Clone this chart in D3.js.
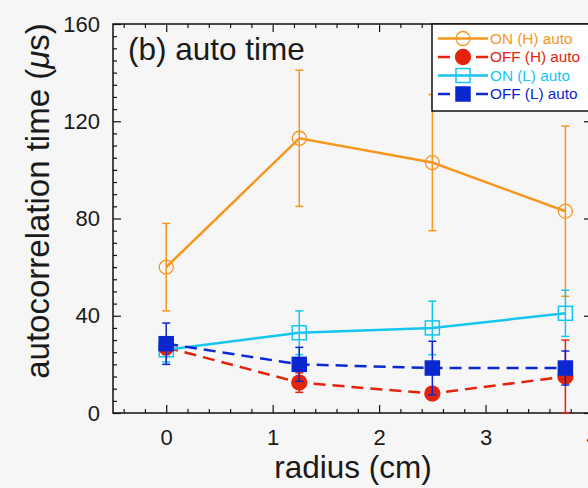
<!DOCTYPE html>
<html>
<head>
<meta charset="utf-8">
<script src="https://cdn.jsdelivr.net/npm/d3@7"></script>
<style>
  body { margin: 0; background: #f6f6f6; }
  svg { display: block; font-family: "Liberation Sans", Arial, sans-serif; }
</style>
</head>
<body>
<div id="chart"></div>
<script>
// data
const radius = [0, 1.25, 2.5, 3.75];
const onH = [60, 113, 103, 83];
const onHErr = [18, 28, 28, 35];
const offH = [27, 12.5, 8, 15];
const offHErr = [3, 4, 2, 15];
const onL = [26, 33, 35, 41];
const onLErr = [5, 9, 11, 9.5];
const offL = [28.5, 20, 18.5, 18.5];
const offLErr = [8.5, 7, 11, 7];

const seriesNames = ["ON (H) auto", "OFF (H) auto", "ON (L) auto", "OFF (L) auto"];
const yMajor = [0, 40, 80, 120, 160];
const xMajor = [0, 1, 2, 3, 4];

const W = 588, H = 488;
const box = {left: 113, right: 592, top: 24, bottom: 413};

const svg = d3.select("#chart").append("svg")
    .attr("width", W)
    .attr("height", H);

svg.append("rect").attr("width", W).attr("height", H).attr("fill", "#f6f6f6");

const x = d3.scaleLinear().domain([-0.5, 4]).range([box.left, box.right]);
const y = d3.scaleLinear().domain([0, 160]).range([box.bottom, box.top]);

const yMinor = d3.range(0, 161, 5).filter(v => v % 40 !== 0);
const xMinor = d3.range(-4, 41, 2).map(v => v / 10).filter(v => !Number.isInteger(v));

// inward ticks on all four sides
function ticks(axis, vals, size, tr) {
    svg.append("g")
        .attr("transform", tr)
        .call(axis.tickValues(vals).tickSize(size).tickFormat(""))
        .call(g => g.select(".domain").remove())
        .selectAll("line").attr("stroke", "#111").attr("stroke-width", 1.2);
}
ticks(d3.axisRight(y), yMajor, 8, `translate(${box.left},0)`);
ticks(d3.axisRight(y), yMinor, 4, `translate(${box.left},0)`);
ticks(d3.axisLeft(y), yMajor, 8, `translate(${box.right},0)`);
ticks(d3.axisLeft(y), yMinor, 4, `translate(${box.right},0)`);
ticks(d3.axisTop(x), xMajor, 8, `translate(0,${box.bottom})`);
ticks(d3.axisTop(x), xMinor, 4, `translate(0,${box.bottom})`);
ticks(d3.axisBottom(x), xMajor, 8, `translate(0,${box.top})`);
ticks(d3.axisBottom(x), xMinor, 4, `translate(0,${box.top})`);

// tick labels
svg.append("g")
    .attr("transform", `translate(${box.left},0)`)
    .call(d3.axisLeft(y).tickValues(yMajor).tickSize(0).tickPadding(13).tickFormat(d3.format("d")))
    .call(g => g.select(".domain").remove())
    .selectAll("text").attr("font-size", 22).attr("fill", "#1a1a1a").attr("font-family", "Liberation Sans, Arial, sans-serif");

svg.append("g")
    .attr("transform", `translate(0,${box.bottom})`)
    .call(d3.axisBottom(x).tickValues(xMajor).tickSize(0).tickPadding(16).tickFormat(d3.format("d")))
    .call(g => g.select(".domain").remove())
    .selectAll("text").attr("font-size", 22).attr("fill", "#1a1a1a").attr("font-family", "Liberation Sans, Arial, sans-serif");

// frame
svg.append("rect")
    .attr("x", box.left).attr("y", box.top)
    .attr("width", box.right - box.left).attr("height", box.bottom - box.top)
    .attr("fill", "none").attr("stroke", "#111").attr("stroke-width", 1.5);

// axis titles
svg.append("text")
    .attr("x", 353).attr("y", 478)
    .attr("text-anchor", "middle")
    .attr("font-size", 31.5).attr("fill", "#1a1a1a")
    .text("radius (cm)");

const yl = svg.append("text")
    .attr("transform", "translate(49,201) rotate(-90)")
    .attr("text-anchor", "middle")
    .attr("font-size", 33).attr("fill", "#1a1a1a");
yl.append("tspan").text("autocorrelation time (");
yl.append("tspan").attr("font-style", "italic").text("\u03bc");
yl.append("tspan").text("s)");

svg.append("text")
    .attr("x", 128).attr("y", 60)
    .attr("font-size", 31.5).attr("fill", "#1a1a1a")
    .text("(b) auto time");

// series
const series = [
    {name: seriesNames[0], vals: onH, err: onHErr, color: "#f7961f", dash: null, shape: "circle", filled: false},
    {name: seriesNames[1], vals: offH, err: offHErr, color: "#e3230c", dash: "12,7", shape: "circle", filled: true},
    {name: seriesNames[2], vals: onL, err: onLErr, color: "#14c6f0", dash: null, shape: "square", filled: false},
    {name: seriesNames[3], vals: offL, err: offLErr, color: "#0b27cf", dash: "12,7", shape: "square", filled: true}
];

function marker(g, s, cx, cy) {
    if (s.shape === "circle") {
        g.append("circle")
            .attr("cx", cx).attr("cy", cy).attr("r", s.filled ? 7.5 : 7)
            .attr("fill", s.filled ? s.color : "none")
            .attr("stroke", s.color).attr("stroke-width", 1.3);
    } else {
        const r = 7;
        g.append("rect")
            .attr("x", cx - r).attr("y", cy - r).attr("width", 2 * r).attr("height", 2 * r)
            .attr("fill", s.filled ? s.color : "none")
            .attr("stroke", s.color).attr("stroke-width", 1.5);
    }
}

const line = d3.line().x((d, i) => x(radius[i])).y(d => y(d));

series.forEach(s => {
    const g = svg.append("g");
    // error bars
    s.vals.forEach((v, i) => {
        const cx = x(radius[i]);
        const lo = y(v - s.err[i]), hi = y(v + s.err[i]);
        g.append("line").attr("x1", cx).attr("x2", cx).attr("y1", lo).attr("y2", hi)
            .attr("stroke", s.color).attr("stroke-width", 1.5);
        [lo, hi].forEach(yy => g.append("line")
            .attr("x1", cx - 4).attr("x2", cx + 4).attr("y1", yy).attr("y2", yy)
            .attr("stroke", s.color).attr("stroke-width", 1.5));
    });
    g.append("path")
        .datum(s.vals)
        .attr("fill", "none")
        .attr("stroke", s.color)
        .attr("stroke-width", 2.5)
        .attr("stroke-dasharray", s.dash)
        .attr("d", line);
    s.vals.forEach((v, i) => marker(g, s, x(radius[i]), y(v)));
});

// legend
const lg = svg.append("g");
lg.append("rect")
    .attr("x", 432).attr("y", box.top).attr("width", 160).attr("height", 87)
    .attr("fill", "#ffffff").attr("stroke", "#111").attr("stroke-width", 1.5);
series.forEach((s, i) => {
    const ly = 38.5 + i * 18.5;
    lg.append("line")
        .attr("x1", 438).attr("x2", 488).attr("y1", ly).attr("y2", ly)
        .attr("stroke", s.color).attr("stroke-width", 2.5)
        .attr("stroke-dasharray", s.dash);
    marker(lg, s, 463, ly);
    lg.append("text")
        .attr("x", 490).attr("y", ly)
        .attr("dy", "0.35em")
        .attr("font-size", 15.3)
        .attr("fill", s.color)
        .text(s.name);
});
</script>
</body>
</html>
